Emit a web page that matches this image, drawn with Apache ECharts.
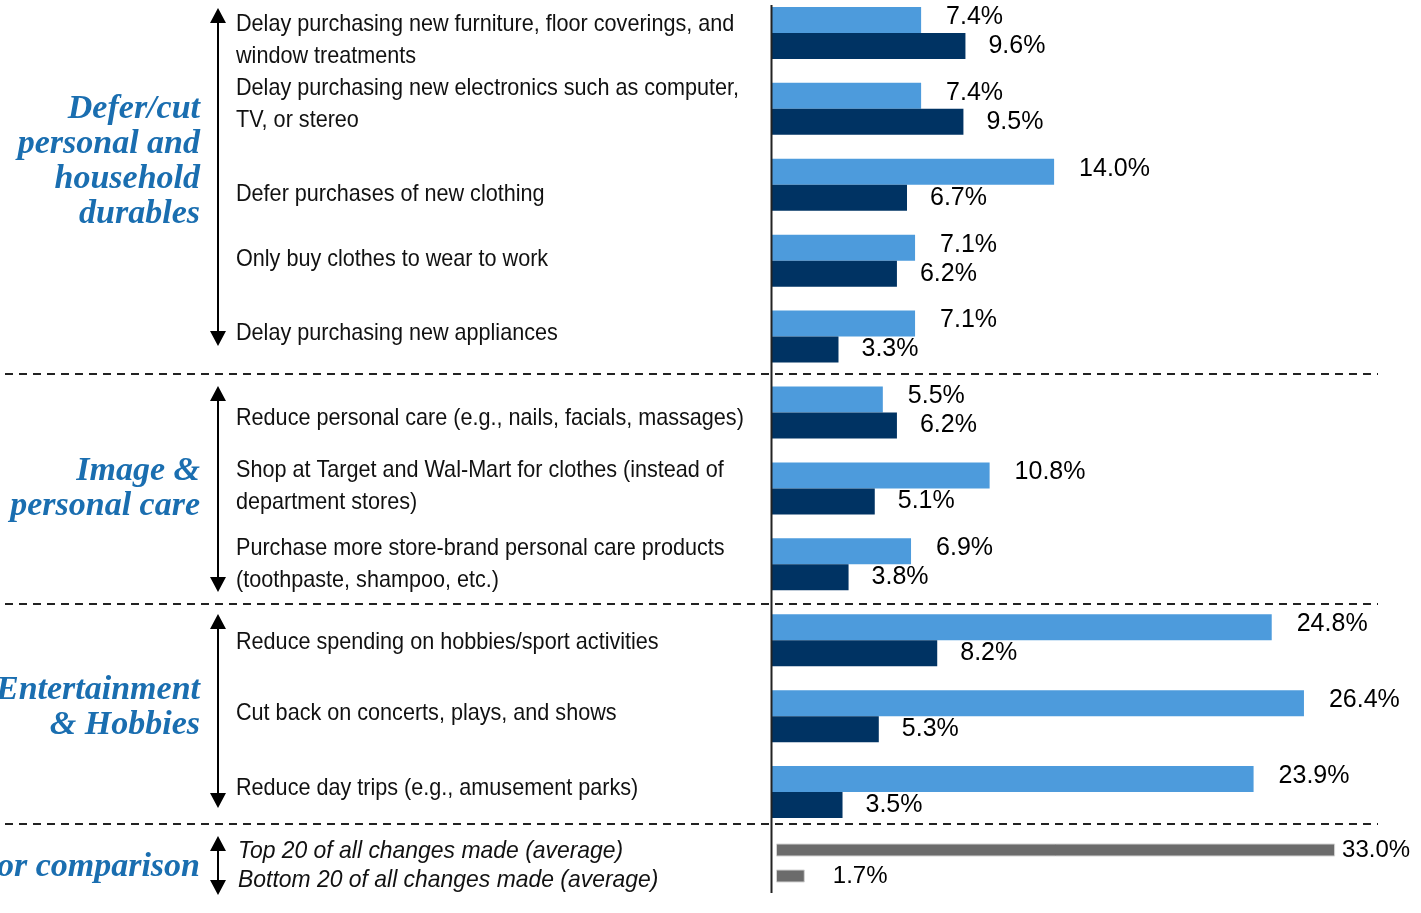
<!DOCTYPE html>
<html>
<head>
<meta charset="utf-8">
<script src="https://cdn.jsdelivr.net/npm/echarts@6/dist/echarts.min.js"></script>
<style>
  html, body { margin: 0; padding: 0; background: #ffffff; }
  #chart { width: 1421px; height: 913px; }
</style>
</head>
<body>
<div id="chart"></div>
<script>
// Spending changes, two measures per behaviour
const categories = [
  'Delay purchasing new furniture, floor coverings, and\nwindow treatments',
  'Delay purchasing new electronics such as computer,\nTV, or stereo',
  'Defer purchases of new clothing',
  'Only buy clothes to wear to work',
  'Delay purchasing new appliances',
  'Reduce personal care (e.g., nails, facials, massages)',
  'Shop at Target and Wal-Mart for clothes (instead of\ndepartment stores)',
  'Purchase more store-brand personal care products\n(toothpaste, shampoo, etc.)',
  'Reduce spending on hobbies/sport activities',
  'Cut back on concerts, plays, and shows',
  'Reduce day trips (e.g., amusement parks)'
];
const lightValues = [7.4, 7.4, 14.0, 7.1, 7.1, 5.5, 10.8, 6.9, 24.8, 26.4, 23.9];
const darkValues  = [9.6, 9.5, 6.7, 6.2, 3.3, 6.2, 5.1, 3.8, 8.2, 5.3, 3.5];

const comparisonCategories = [
  'Top 20 of all changes made (average)',
  'Bottom 20 of all changes made (average)'
];
const comparisonValues = [33.0, 1.7];

const groupNames = [
  'Defer/cut\npersonal and\nhousehold\ndurables',
  'Image &\npersonal care',
  'Entertainment\n& Hobbies',
  'For comparison'
];

// small vertical nudges of the category texts relative to their band centres
const LABEL_NUDGE = [7, -4, 10, -1, -3, 6, -2, 0, 2, -3, -4];
const COMPARISON_NUDGE = [1, 4];

const LIGHT = '#4d9bdc';
const DARK = '#003363';
const GRAY = '#6b6b6b';
const GROUP_BLUE = '#1a6eb0';
const SANS = "'Liberation Sans', Arial, sans-serif";
const SERIF = "'Liberation Serif', 'Times New Roman', serif";

const pct = p => p.value.toFixed(1) + '%';

const chart = echarts.init(document.getElementById('chart'), null, { renderer: 'canvas' });

// double-headed vertical arrow
function arrow(x, yTop, yBottom) {
  const hw = 8, hl = 15;
  return [
    { type: 'line', silent: true, shape: { x1: x, y1: yTop + hl - 2, x2: x, y2: yBottom - hl + 2 },
      style: { stroke: '#000', lineWidth: 2 } },
    { type: 'polygon', silent: true, shape: { points: [[x, yTop], [x - hw, yTop + hl], [x + hw, yTop + hl]] },
      style: { fill: '#000' } },
    { type: 'polygon', silent: true, shape: { points: [[x, yBottom], [x - hw, yBottom - hl], [x + hw, yBottom - hl]] },
      style: { fill: '#000' } }
  ];
}

function groupLabel(text, y) {
  return {
    type: 'text', silent: true, x: 200, y: y,
    style: {
      text: text, align: 'right', verticalAlign: 'middle',
      fontFamily: SERIF, fontSize: 34, fontWeight: 'bold', fontStyle: 'italic',
      lineHeight: 35, fill: GROUP_BLUE
    }
  };
}

function dashed(y) {
  return {
    type: 'line', silent: true,
    shape: { x1: 5, y1: y, x2: 1378, y2: y },
    style: { stroke: '#222', lineWidth: 2, lineDash: [8, 6] }
  };
}

// condensed category text, left-aligned beside its bar pair
function categoryLabel(text, x, y, italic) {
  return {
    type: 'text', silent: true, x: x, y: y,
    scaleX: italic ? 0.955 : 0.9,
    style: {
      text: text, align: 'left', verticalAlign: 'middle',
      fontFamily: SANS, fontSize: 24, fontStyle: italic ? 'italic' : 'normal',
      lineHeight: italic ? 29 : 32, fill: '#111'
    }
  };
}

const option = {
  animation: false,
  backgroundColor: '#ffffff',
  grid: [
    { left: 772, top: -5, width: 604.5, height: 835, outerBoundsMode: 'none' },
    { left: 776, top: 837, width: 593, height: 52, outerBoundsMode: 'none' }
  ],
  xAxis: [
    { gridIndex: 0, type: 'value', min: 0, max: 30, show: false },
    { gridIndex: 1, type: 'value', min: 0, max: 35, show: false }
  ],
  yAxis: [
    {
      gridIndex: 0, type: 'category', inverse: true, data: categories,
      axisLine: { show: false }, axisTick: { show: false }, splitLine: { show: false },
      axisLabel: { show: false }
    },
    {
      gridIndex: 1, type: 'category', inverse: true, data: comparisonCategories,
      axisLine: { show: false }, axisTick: { show: false }, splitLine: { show: false },
      axisLabel: { show: false }
    }
  ],
  series: [
    {
      name: 'light', type: 'bar', xAxisIndex: 0, yAxisIndex: 0,
      data: lightValues, barWidth: 26, barGap: '0%',
      itemStyle: { color: LIGHT },
      label: { show: true, position: 'right', distance: 25, offset: [0, -3],
        formatter: pct, fontFamily: SANS, fontSize: 25, color: '#000' }
    },
    {
      name: 'dark', type: 'bar', xAxisIndex: 0, yAxisIndex: 0,
      data: darkValues, barWidth: 26, barGap: '0%',
      itemStyle: { color: DARK },
      label: { show: true, position: 'right', distance: 23,
        formatter: pct, fontFamily: SANS, fontSize: 25, color: '#000' }
    },
    {
      name: 'comparison', type: 'bar', xAxisIndex: 1, yAxisIndex: 1,
      data: comparisonValues.map((v, i) => ({ value: v, label: { distance: i === 0 ? 7 : 28 } })),
      barWidth: 13,
      itemStyle: { color: GRAY, borderColor: '#d4d4d4', borderWidth: 1 },
      label: { show: true, position: 'right',
        formatter: pct, fontFamily: SANS, fontSize: 24, color: '#000' }
    }
  ]
};

chart.setOption(option);

// category texts placed at each band centre of the category axes
const labelGraphics = [];
categories.forEach((c, i) => {
  const y = chart.convertToPixel({ gridIndex: 0 }, [0, i])[1] + LABEL_NUDGE[i];
  labelGraphics.push(categoryLabel(c, 236, y, false));
});
comparisonCategories.forEach((c, i) => {
  const y = chart.convertToPixel({ gridIndex: 1 }, [0, i])[1] + COMPARISON_NUDGE[i];
  labelGraphics.push(categoryLabel(c, 238, y, true));
});

chart.setOption({
  graphic: [
    groupLabel(groupNames[0], 162),
    groupLabel(groupNames[1], 489),
    groupLabel(groupNames[2], 708),
    groupLabel(groupNames[3], 867),
    ...arrow(218, 8, 346),
    ...arrow(218, 386, 592),
    ...arrow(218, 614, 808),
    ...arrow(218, 836, 895),
    dashed(374), dashed(604), dashed(824),
    { type: 'line', silent: true, z: 100,
      shape: { x1: 771.5, y1: 5, x2: 771.5, y2: 893 },
      style: { stroke: '#222', lineWidth: 2 } },
    ...labelGraphics
  ]
});
</script>
</body>
</html>
